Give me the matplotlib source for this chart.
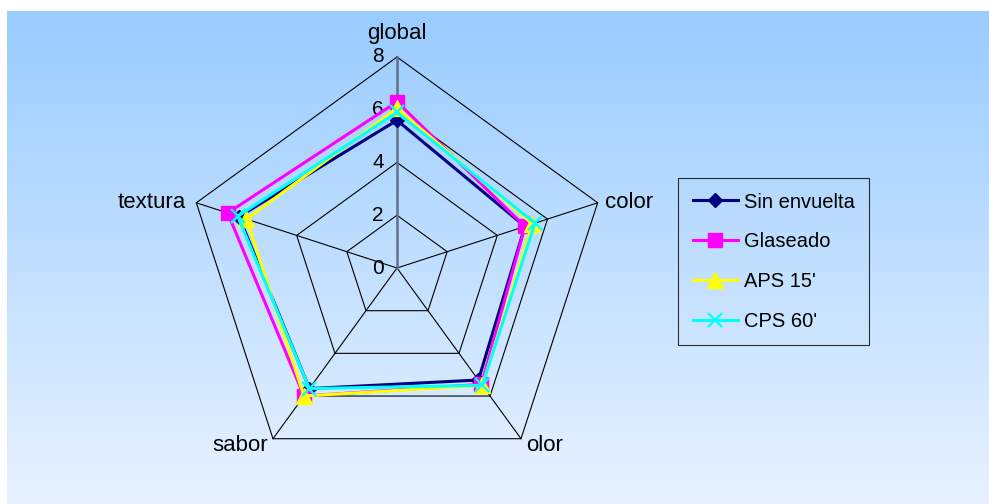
import numpy as np
import matplotlib
matplotlib.use("Agg")
import matplotlib.pyplot as plt
from matplotlib.lines import Line2D

plt.rcParams['font.family'] = ['Liberation Sans', 'DejaVu Sans']

categories = ["global", "color", "olor", "sabor", "textura"]
series_names = ["Sin envuelta", "Glaseado", "APS 15'", "CPS 60'"]
sin_envuelta = [5.6, 5.1, 5.25, 5.65, 6.3]
glaseado = [6.3, 5.1, 5.45, 6.0, 6.75]
aps15 = [6.05, 5.4, 5.5, 6.0, 6.0]
cps60 = [5.9, 5.5, 5.5, 5.65, 6.35]
ticks = [0, 2, 4, 6, 8]
rmax = 8

colors = ["#000080", "#FF00FF", "#FFFF00", "#00FFFF"]
markers = ["D", "s", "^", "x"]
msizes = [7.5, 10.5, 11, 10.5]

W, H = 989, 504
fig = plt.figure(figsize=(W / 100, H / 100), dpi=100)
fig.patch.set_facecolor("white")

# gradient background panel
bg = fig.add_axes([7 / W, 0, 1 - 7 / W, (H - 11) / H])
grad = np.linspace(0, 1, 256).reshape(-1, 1)
top = np.array([153, 204, 255]) / 255
bot = np.array([232, 242, 255]) / 255
img = top[None, None, :] * (1 - grad[:, :, None]) + bot[None, None, :] * grad[:, :, None]
bg.imshow(img, aspect="auto", extent=[0, 1, 0, 1])
bg.set_axis_off()

# radar axes: center at pixel (397, 268), radius 211 px for value 8
cx, cy, R = 397, 268, 211
half = 220
ax = fig.add_axes([(cx - half) / W, (H - cy - half) / H, 2 * half / W, 2 * half / H])
ax.set_axis_off()
lim = half / R * rmax
ax.set_xlim(-lim, lim)
ax.set_ylim(-lim, lim)

n = len(categories)
angles = np.pi / 2 - 2 * np.pi * np.arange(n) / n

def xy(vals):
    v = np.asarray(vals, float)
    x = v * np.cos(angles)
    y = v * np.sin(angles)
    return np.append(x, x[0]), np.append(y, y[0])

# grid polygons
for t in ticks[1:]:
    gx, gy = xy([t] * n)
    ax.plot(gx, gy, color="black", lw=0.8, zorder=1)
# spokes
for i, a in enumerate(angles):
    if i == 0:
        continue
    ax.plot([0, rmax * np.cos(a)], [0, rmax * np.sin(a)], color="black", lw=0.8, zorder=1)
ax.plot([0, 0], [0, rmax], color="#5f7289", lw=1.8, zorder=2)

# tick labels
for t in ticks:
    ax.text(-0.5, t, str(t), ha="right", va="center", fontsize=15, color="black")

# category labels
offs = [(0, 8.9, "center", "center"), (8.1 * np.cos(angles[1]) + 0.2, rmax * np.sin(angles[1]), "left", "center"),
        (rmax * np.cos(angles[2]) + 0.2, rmax * np.sin(angles[2]) - 0.25, "left", "center"),
        (rmax * np.cos(angles[3]) - 0.2, rmax * np.sin(angles[3]) - 0.25, "right", "center"),
        (rmax * np.cos(angles[4]) - 0.4, rmax * np.sin(angles[4]), "right", "center")]
for lab, (x, y, ha, va) in zip(categories, offs):
    ax.text(x, y, lab, ha=ha, va=va, fontsize=16, color="black")

all_series = [sin_envuelta, glaseado, aps15, cps60]
handles = []
for k, (vals, name) in enumerate(zip(all_series, series_names)):
    sx, sy = xy(vals)
    mew = 1.6 if markers[k] == "x" else 1
    ax.plot(sx, sy, color=colors[k], lw=2.2, zorder=3 + k)
    ax.plot(sx[:-1], sy[:-1], ls="none", marker=markers[k], ms=msizes[k], color=colors[k],
            mec=colors[k], mew=mew, zorder=3 + k)
    handles.append(Line2D([0], [0], color=colors[k], lw=2.2, marker=markers[k],
                          ms=msizes[k], mec=colors[k], mew=mew))

leg = fig.legend(handles, series_names, loc="upper left",
                 bbox_to_anchor=(678 / W, 1 - 178 / H), frameon=True, fontsize=14.5,
                 handlelength=2.25, labelspacing=1.03, borderpad=0.72, handletextpad=0.3,
                 borderaxespad=0, fancybox=False)
leg.get_frame().set_facecolor("none")
leg.get_frame().set_edgecolor("black")
leg.get_frame().set_linewidth(0.8)

fig.savefig("out.png", dpi=100)
